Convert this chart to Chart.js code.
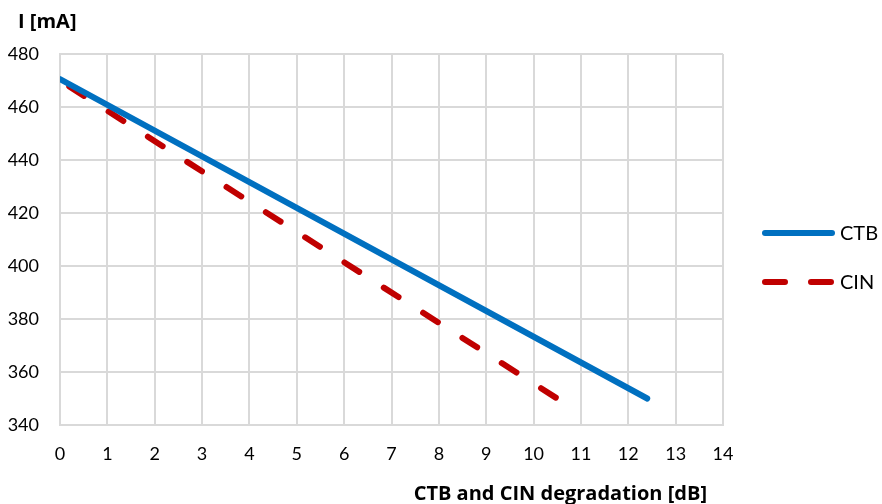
<!DOCTYPE html>
<html>
<head>
<meta charset="utf-8">
<script src="https://cdn.jsdelivr.net/npm/chart.js@4"></script>
<style>
  html, body { margin: 0; padding: 0; background: #fff; }
  #wrap { width: 882px; height: 504px; }
</style>
</head>
<body>
<div id="wrap"><canvas id="chart"></canvas></div>
<script>
const ctbX = [0, 12.4];
const ctbY = [470.5, 350];
const cinX = [0, 10.55];
const cinY = [470, 349.4];
const seriesNames = ["CTB", "CIN"];
const yTitle = "I [mA]";
const xTitle = "CTB and CIN degradation [dB]";

const FONT = "Lato, 'Open Sans', sans-serif";
const TITLE_FONT = "bold 20px 'Open Sans', sans-serif";

// axis titles and legend are placed by hand, like the spreadsheet chart
const extras = {
  id: "extras",
  afterDraw(chart) {
    const { ctx, chartArea } = chart;
    ctx.save();
    ctx.fillStyle = "#000";
    ctx.font = TITLE_FONT;
    ctx.textBaseline = "alphabetic";
    ctx.textAlign = "left";
    ctx.fillText(yTitle, 18, chartArea.top - 26);
    ctx.textAlign = "right";
    ctx.fillText(xTitle, chartArea.right - 16, chartArea.bottom + 75);

    const legendY = [233, 282];
    const x0 = chartArea.right + 39;
    chart.data.datasets.forEach((ds, i) => {
      ctx.beginPath();
      ctx.strokeStyle = ds.borderColor;
      ctx.lineWidth = 6;
      ctx.lineCap = "round";
      ctx.setLineDash(i === 1 ? [20, 26] : []);
      ctx.moveTo(x0 + 3, legendY[i]);
      ctx.lineTo(x0 + 70, legendY[i]);
      ctx.stroke();
      ctx.setLineDash([]);
      ctx.fillStyle = "#000";
      ctx.font = "20px " + FONT;
      ctx.textAlign = "left";
      ctx.textBaseline = "middle";
      ctx.fillText(ds.label, x0 + 78, legendY[i] + 1);
    });
    ctx.restore();
  },
};

const toPoints = (xs, ys) => xs.map((x, i) => ({ x: x, y: ys[i] }));

new Chart(document.getElementById("chart"), {
  type: "line",
  data: {
    datasets: [
      {
        label: seriesNames[0],
        data: toPoints(ctbX, ctbY),
        borderColor: "#0070c0",
        borderWidth: 6,
        borderCapStyle: "round",
        pointRadius: 0,
        fill: false,
      },
      {
        label: seriesNames[1],
        data: toPoints(cinX, cinY),
        borderColor: "#c00000",
        borderWidth: 6,
        borderCapStyle: "round",
        borderDash: [17.5, 29.17],
        borderDashOffset: 35.67,
        pointRadius: 0,
        fill: false,
      },
    ],
  },
  options: {
    responsive: true,
    maintainAspectRatio: false,
    animation: false,
    layout: { padding: { top: 54, left: 0, right: 159, bottom: 0 } },
    scales: {
      x: {
        type: "linear",
        min: 0,
        max: 14,
        afterFit: (scale) => { scale.height = 79; },
        ticks: { stepSize: 1, color: "#000", padding: 18, font: { family: FONT, size: 18 } },
        grid: { color: "#d9d9d9", lineWidth: 2, drawTicks: false },
        border: { color: "#d9d9d9", width: 2 },
      },
      y: {
        min: 340,
        max: 480,
        afterFit: (scale) => { scale.width = 60; },
        ticks: { stepSize: 20, color: "#000", padding: 21, font: { family: FONT, size: 18 } },
        grid: { color: "#d9d9d9", lineWidth: 2, drawTicks: false },
        border: { color: "#d9d9d9", width: 2 },
      },
    },
    plugins: {
      legend: { display: false },
      tooltip: { enabled: false },
    },
  },
  plugins: [extras],
});
</script>
</body>
</html>
